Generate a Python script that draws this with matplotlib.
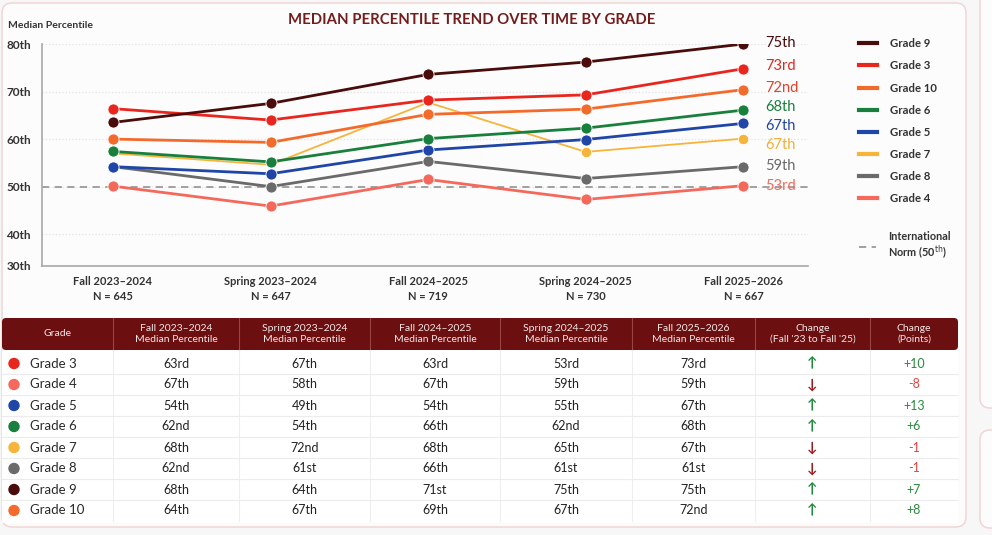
import numpy as np
import matplotlib
matplotlib.use('Agg')
import matplotlib.pyplot as plt
from matplotlib.patches import FancyBboxPatch, Rectangle, Circle
from matplotlib.lines import Line2D

plt.rcParams['font.family'] = ['Lato', 'DejaVu Sans']

# --- chart data ---
terms = ['Fall 2023–2024', 'Spring 2023–2024', 'Fall 2024–2025',
         'Spring 2024–2025', 'Fall 2025–2026']
n_counts = [645, 647, 719, 730, 667]

grade_9 = [63.5, 67.5, 73.6, 76.2, 80.0]
grade_3 = [66.4, 64.0, 68.2, 69.3, 74.8]
grade_10 = [60.0, 59.3, 65.2, 66.3, 70.4]
grade_6 = [57.4, 55.2, 60.1, 62.3, 66.1]
grade_5 = [54.2, 52.7, 57.7, 59.9, 63.3]
grade_7 = [57.0, 54.6, 67.7, 57.3, 60.1]
grade_8 = [54.2, 50.0, 55.3, 51.7, 54.2]
grade_4 = [50.1, 45.9, 51.5, 47.3, 50.2]
end_labels = ['75th', '73rd', '72nd', '68th', '67th', '67th', '59th', '53rd']
norm_value = 50

# --- table data ---
table_grades = ['Grade 3', 'Grade 4', 'Grade 5', 'Grade 6',
                'Grade 7', 'Grade 8', 'Grade 9', 'Grade 10']
fall_23 = ['63rd', '67th', '54th', '62nd', '68th', '62nd', '68th', '64th']
spring_23 = ['67th', '58th', '49th', '54th', '72nd', '61st', '64th', '67th']
fall_24 = ['63rd', '67th', '54th', '66th', '68th', '66th', '71st', '69th']
spring_24 = ['53rd', '59th', '55th', '62nd', '65th', '61st', '75th', '67th']
fall_25 = ['73rd', '59th', '67th', '68th', '67th', '61st', '75th', '72nd']
change_points = [10, -8, 13, 6, -1, -1, 7, 8]

headers = ['Grade', 'Fall 2023–2024\nMedian Percentile',
           'Spring 2023–2024\nMedian Percentile',
           'Fall 2024–2025\nMedian Percentile',
           'Spring 2024–2025\nMedian Percentile',
           'Fall 2025–2026\nMedian Percentile',
           "Change\n(Fall '23 to Fall '25)", 'Change\n(Points)']

colors = {
    'Grade 9': '#4a0b0b', 'Grade 3': '#e8261e', 'Grade 10': '#f36b2c',
    'Grade 6': '#18803c', 'Grade 5': '#1f46a6', 'Grade 7': '#f6b53a',
    'Grade 8': '#6a6a6a', 'Grade 4': '#f4695c',
}
label_colors = ['#4a0b0b', '#e0261e', '#e8402a', '#18803c', '#1f46a6',
                '#f2b03a', '#6a6a6a', '#f4695c']
label_nudge = [0.7, 2.2, 1.4, 2.2, -2.2, -4.3, 0.7, 0]

series = [('Grade 9', grade_9), ('Grade 3', grade_3), ('Grade 10', grade_10),
          ('Grade 6', grade_6), ('Grade 5', grade_5), ('Grade 7', grade_7),
          ('Grade 8', grade_8), ('Grade 4', grade_4)]

W, H = 992, 535
fig = plt.figure(figsize=(W / 100, H / 100), dpi=100)
fig.patch.set_facecolor('#f7f7f7')

# background panels
bg = fig.add_axes([0, 0, 1, 1], zorder=-5)
bg.set_xlim(0, W)
bg.set_ylim(H, 0)
bg.axis('off')
bg.add_patch(FancyBboxPatch((2, 3), 964, 524, boxstyle='round,pad=0,rounding_size=10',
                            fc='#fcfcfc', ec='#f1d3d3', lw=1))
bg.add_patch(FancyBboxPatch((980, -10), 40, 418, boxstyle='round,pad=0,rounding_size=10',
                            fc='#fcfcfc', ec='#f1d3d3', lw=1))
bg.add_patch(FancyBboxPatch((980, 430), 40, 98, boxstyle='round,pad=0,rounding_size=10',
                            fc='#fcfcfc', ec='#f1d3d3', lw=1))


def fwd(v):
    v = np.asarray(v, dtype=float)
    return np.where(v < 40, 40 - (40 - v) * 0.67, v)


def inv(u):
    u = np.asarray(u, dtype=float)
    return np.where(u < 40, 40 - (40 - u) / 0.67, u)


# --- line chart ---
ax = fig.add_axes([42 / W, 1 - 266 / H, (808 - 42) / W, (266 - 44) / H])
ax.set_facecolor('none')
x = np.arange(len(terms))

handles = []
for name, vals in reversed(series):
    if name == 'Grade 7':
        ln, = ax.plot(x, vals, color=colors[name], lw=1.3, marker='o', ms=7.5,
                      markevery=[3, 4], mec='white', mew=0.6, zorder=2)
    else:
        ln, = ax.plot(x, vals, color=colors[name], lw=2, marker='o', ms=8,
                      mec='white', mew=0.6, zorder=3)
    handles.append((name, ln))
handles = dict(handles)

for (name, vals), lab, c, dy in zip(series, end_labels, label_colors, label_nudge):
    ax.annotate(lab, (x[-1], vals[-1]), xytext=(16, dy), textcoords='offset points',
                ha='left', va='center', fontsize=10.5, color=c,
                annotation_clip=False)

ax.axhline(norm_value, color='#9a9a9a', lw=1.3, ls=(0, (4, 3)), zorder=1)

ax.set_yscale('function', functions=(fwd, inv))
ax.set_ylim(30, 80)
ax.set_xlim(-0.45, 4.41)
yt = [30, 40, 50, 60, 70, 80]
ax.set_yticks(yt)
ax.set_yticklabels([f'{t}th' for t in yt], fontsize=8.5, fontweight='bold', color='#333333')
ax.set_xticks(x)
ax.set_xticklabels([f'{t}\nN = {n}' for t, n in zip(terms, n_counts)],
                   fontsize=8, fontweight='bold', color='#333333', linespacing=1.5)
ax.tick_params(axis='x', length=0, pad=7)
ax.tick_params(axis='y', length=0, pad=8)
ax.yaxis.grid(True, color='#e2e2e2', ls=':', lw=0.9)
ax.set_axisbelow(True)
for s in ['top', 'right']:
    ax.spines[s].set_visible(False)
for s in ['left', 'bottom']:
    ax.spines[s].set_color('#a8a8a8')
    ax.spines[s].set_linewidth(1.2)

fig.text(8 / W, 1 - 25 / H, 'Median Percentile', fontsize=7.5, fontweight='bold',
         color='#333333', va='center')
fig.text(472 / W, 1 - 20 / H, 'MEDIAN PERCENTILE TREND OVER TIME BY GRADE',
         fontsize=10.7, fontweight='bold', color='#741c1c', ha='center', va='center')

# legend
leg = fig.legend([handles[n] for n, _ in series], [n for n, _ in series],
                 loc='upper left', bbox_to_anchor=(849 / W, 1 - 28 / H), frameon=False,
                 fontsize=8.2, handlelength=1.6, handletextpad=1.1, labelspacing=0.98,
                 prop={'weight': 'bold', 'size': 8.2})
for h in leg.legend_handles:
    h.set_marker('')
    h.set_linewidth(3)
for t in leg.get_texts():
    t.set_color('#333333')
norm_handle = Line2D([], [], color='#9a9a9a', lw=1.3, ls=(0, (4, 3)))
leg2 = fig.legend([norm_handle], ['International\nNorm (50$^{\\mathrm{th}}$)'], loc='upper left',
                  bbox_to_anchor=(849 / W, 1 - 221 / H), frameon=False,
                  handlelength=1.6, handletextpad=1.1,
                  prop={'weight': 'bold', 'size': 7.8})
for t in leg2.get_texts():
    t.set_color('#333333')

# --- table ---
tax = fig.add_axes([0, 0, 1, 1])
tax.set_xlim(0, W)
tax.set_ylim(H, 0)
tax.axis('off')
col_edges = [2, 113, 239, 370, 500, 632, 755, 870, 958]
head_top, head_bot = 318, 350
row_h = 21
rows_top = 353

tax.add_patch(FancyBboxPatch((col_edges[0], head_top), col_edges[-1] - col_edges[0],
                             head_bot - head_top,
                             boxstyle='round,pad=0,rounding_size=4',
                             fc='#6c0f10', ec='none'))
for i, h in enumerate(headers):
    cx = (col_edges[i] + col_edges[i + 1]) / 2
    tax.text(cx, (head_top + head_bot) / 2, h, ha='center', va='center', fontsize=7.5,
             color='#f3e6e6', linespacing=1.3)
    if i > 0:
        tax.plot([col_edges[i]] * 2, [head_top, head_bot], color='#9a4545', lw=0.8)

n_rows = len(table_grades)
rows_bot = rows_top + n_rows * row_h
tax.add_patch(Rectangle((col_edges[0], head_bot), col_edges[-1] - col_edges[0],
                        rows_bot - head_bot + 2, fc='white', ec='none', zorder=0))
for e in col_edges[1:-1]:
    tax.plot([e, e], [head_bot, rows_bot], color='#eeeeee', lw=0.8)
for r in range(1, n_rows):
    y = rows_top + r * row_h
    tax.plot([col_edges[0], col_edges[-1]], [y, y], color='#ececec', lw=0.8)

table_cols = [fall_23, spring_23, fall_24, spring_24, fall_25]
for r, g in enumerate(table_grades):
    cy = rows_top + r * row_h + row_h / 2
    tax.add_patch(Circle((14, cy), 5, color=colors[g], zorder=3))
    tax.text(30, cy, g, ha='left', va='center', fontsize=9.5, color='#2a2a2a')
    for c, col in enumerate(table_cols):
        cx = (col_edges[c + 1] + col_edges[c + 2]) / 2
        tax.text(cx, cy, col[r], ha='center', va='center', fontsize=9, color='#222222')
    p = change_points[r]
    up = p > 0
    tax.text((col_edges[6] + col_edges[7]) / 2, cy, '↑' if up else '↓', ha='center',
             va='center', fontsize=10, fontweight='bold',
             color='#1d8a3c' if up else '#9c1b1b')
    tax.text((col_edges[7] + col_edges[8]) / 2, cy, f'{p:+d}', ha='center', va='center',
             fontsize=9, color='#2a8a3e' if up else '#e04444')

fig.savefig('out.png', dpi=100, facecolor=fig.get_facecolor())
